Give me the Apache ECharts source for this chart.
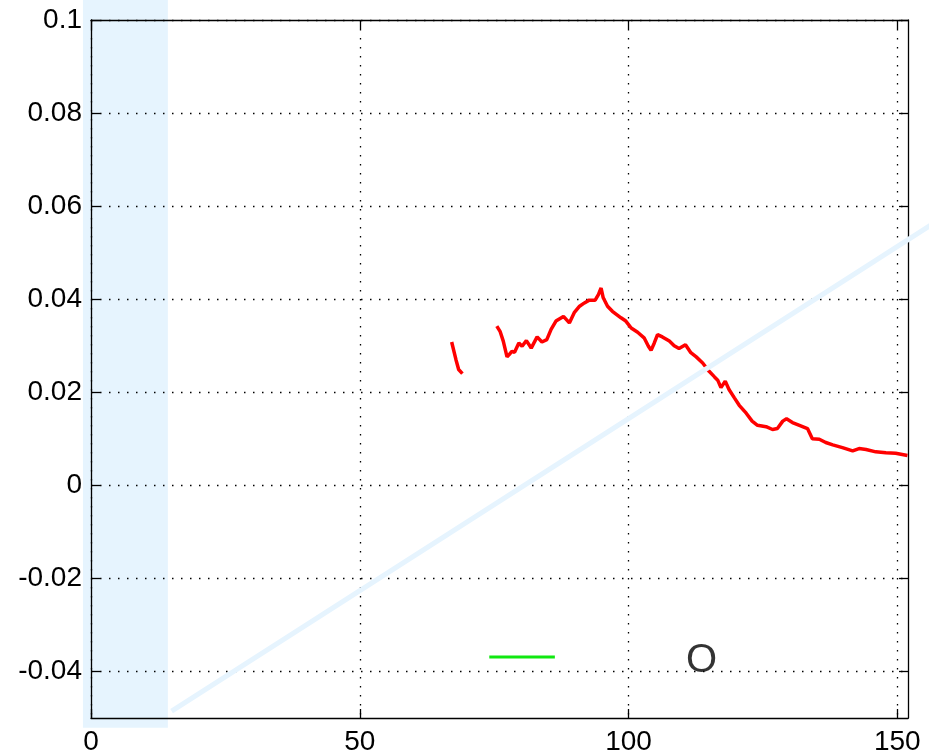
<!DOCTYPE html>
<html>
<head>
<meta charset="utf-8">
<script src="https://cdn.jsdelivr.net/npm/echarts@6/dist/echarts.min.js"></script>
<style>
html,body{margin:0;padding:0;background:#fff;}
#chart{width:929px;height:756px;}
</style>
</head>
<body>
<div id="chart"></div>
<script>
// ---- data ----
const xTicks = [0, 50, 100, 150];
const yTicks = [-0.04, -0.02, 0, 0.02, 0.04, 0.06, 0.08, 0.1];

const seg1X = [67.1, 67.9, 68.4, 69.1];
const seg1Y = [0.0308, 0.0270, 0.0249, 0.0240];

const seg2X = [75.5, 76.1, 76.7, 77.4, 77.8, 78.3, 78.8, 79.6, 80.2, 81.0, 81.9, 83.0, 83.9, 84.8, 85.6, 86.5, 87.9, 89.0, 89.9, 90.9, 91.8, 92.7, 93.8, 94.4, 94.9, 95.3, 96.1, 97.0, 97.8, 98.6, 99.5, 100.5, 101.7, 102.9, 103.7, 104.2, 104.8, 105.4, 106.3, 107.6, 108.5, 109.4, 110.6, 111.6, 112.6, 113.8, 115.0, 116.0, 116.6, 117.2, 118.0, 118.7, 119.7, 120.6, 121.9, 123.0, 124.0, 125.6, 126.8, 127.7, 128.7, 129.4, 130.5, 131.8, 133.3, 134.2, 135.5, 136.7, 138.0, 139.8, 141.7, 142.9, 144.2, 146.0, 147.9, 149.7, 151.9];
const seg2Y = [0.0342, 0.0331, 0.0310, 0.0276, 0.0281, 0.0288, 0.0286, 0.0306, 0.0299, 0.0311, 0.0295, 0.0319, 0.0308, 0.0313, 0.0335, 0.0353, 0.0363, 0.0349, 0.0371, 0.0385, 0.0392, 0.0398, 0.0398, 0.0410, 0.0424, 0.0403, 0.0385, 0.0374, 0.0367, 0.0360, 0.0353, 0.0338, 0.0329, 0.0317, 0.0299, 0.0290, 0.0306, 0.0324, 0.0319, 0.0310, 0.0300, 0.0294, 0.0302, 0.0285, 0.0276, 0.0263, 0.0245, 0.0233, 0.0226, 0.0210, 0.0224, 0.0206, 0.0188, 0.0172, 0.0155, 0.0138, 0.0129, 0.0126, 0.0120, 0.0122, 0.0138, 0.0143, 0.0135, 0.0129, 0.0122, 0.0100, 0.0099, 0.0092, 0.0087, 0.0081, 0.0074, 0.0079, 0.0077, 0.0072, 0.0070, 0.0069, 0.0064];

const greenX = [74.1, 86.3];
const greenY = [-0.0369, -0.0369];

const diagX = [15.0, 160.0];
const diagY = [-0.0485, 0.0587];

const bandX = [-1.5, 14.3];
const bandY = [-0.0521, 0.1043];

const markerText = 'O';
const markerX = 113.6;
const markerY = -0.0377;

// ---- chart ----
const zip = (xs, ys) => xs.map((x, i) => [x, ys[i]]);
const redData = zip(seg1X, seg1Y).concat([[null, null]], zip(seg2X, seg2Y));

const FONT = "'Liberation Sans', Arial, Helvetica, sans-serif";
const fmtY = v => String(parseFloat(Number(v).toFixed(3)));

const chart = echarts.init(document.getElementById('chart'), null, {renderer: 'canvas'});
const gridLine = {show: true, lineStyle: {color: '#000', width: 1.3, type: [1.5, 7.5]}};
const axisLine = {show: true, onZero: false, lineStyle: {color: '#000', width: 1.3}};
const tick = vals => ({show: true, inside: true, length: 9, customValues: vals, lineStyle: {color: '#000', width: 1.3}});

chart.setOption({
  animation: false,
  backgroundColor: '#fff',
  grid: {left: 91, right: 21, top: 20, bottom: 37, containLabel: false},
  xAxis: [{
    type: 'value', min: 0, max: 152, position: 'bottom', z: 3,
    axisLine: axisLine,
    axisTick: tick(xTicks),
    axisLabel: {show: true, customValues: xTicks, margin: 10, color: '#000', fontSize: 28, fontFamily: FONT},
    splitLine: gridLine
  }, {
    type: 'value', min: 0, max: 152, position: 'top', z: 3,
    axisLine: axisLine,
    axisTick: tick(xTicks),
    axisLabel: {show: false},
    splitLine: {show: false}
  }],
  yAxis: [{
    type: 'value', min: -0.05, max: 0.1, position: 'left', z: 3,
    axisLine: axisLine,
    axisTick: tick(yTicks),
    axisLabel: {show: true, customValues: yTicks, margin: 9, color: '#000', fontSize: 28, fontFamily: FONT, formatter: fmtY},
    splitLine: gridLine
  }, {
    type: 'value', min: -0.05, max: 0.1, position: 'right', z: 3,
    axisLine: axisLine,
    axisTick: tick(yTicks),
    axisLabel: {show: false},
    splitLine: {show: false}
  }],
  series: [{
    type: 'custom', name: 'band', z: 0, clip: false, silent: true,
    data: [[bandX[0], bandY[0], bandX[1], bandY[1]]],
    renderItem: function (params, api) {
      const p0 = api.coord([api.value(0), api.value(3)]);
      const p1 = api.coord([api.value(2), api.value(1)]);
      return {type: 'rect', shape: {x: p0[0], y: p0[1], width: p1[0] - p0[0], height: p1[1] - p0[1]}, style: {fill: '#e6f4fe'}};
    }
  }, {
    type: 'line', name: 'red', z: 4, data: redData, connectNulls: false,
    showSymbol: false, symbol: 'none', clip: false,
    lineStyle: {color: '#ff0000', width: 3.5}
  }, {
    type: 'custom', name: 'diag', z: 5, clip: false, silent: true,
    data: [[diagX[0], diagY[0], diagX[1], diagY[1]]],
    renderItem: function (params, api) {
      const p0 = api.coord([api.value(0), api.value(1)]);
      const p1 = api.coord([api.value(2), api.value(3)]);
      return {type: 'line', shape: {x1: p0[0], y1: p0[1], x2: p1[0], y2: p1[1]}, style: {stroke: '#e6f4fe', lineWidth: 5, fill: null}};
    }
  }, {
    type: 'line', name: 'green', z: 5, data: zip(greenX, greenY),
    showSymbol: false, symbol: 'none',
    lineStyle: {color: '#10e810', width: 3}
  }, {
    type: 'scatter', name: 'marker', z: 6, symbolSize: 1,
    itemStyle: {color: 'rgba(0,0,0,0)'},
    data: [[markerX, markerY]],
    label: {show: true, position: 'inside', formatter: markerText, color: '#000', fontSize: 40, fontFamily: FONT}
  }]
});
</script>
</body>
</html>
